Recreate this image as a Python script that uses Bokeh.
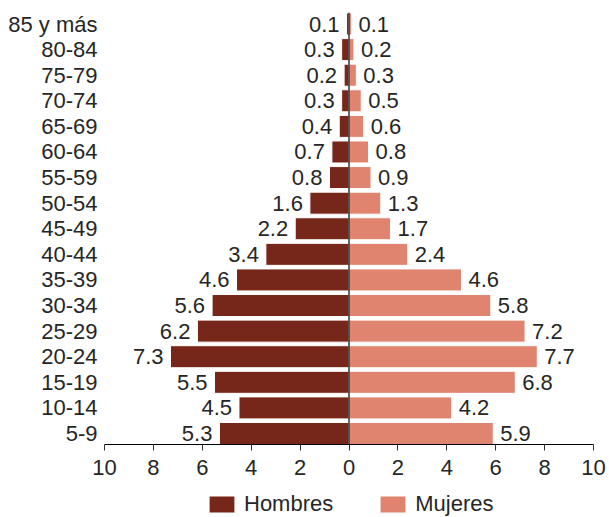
from bokeh.plotting import figure
from bokeh.layouts import column
from bokeh.models import ColumnDataSource, Range1d, FixedTicker, Span, Legend, LegendItem
from bokeh.core.properties import value
from bokeh.embed import file_html
from bokeh.resources import INLINE

groups = ["5-9", "10-14", "15-19", "20-24", "25-29", "30-34", "35-39", "40-44",
          "45-49", "50-54", "55-59", "60-64", "65-69", "70-74", "75-79", "80-84", "85 y más"]
hombres = [5.3, 4.5, 5.5, 7.3, 6.2, 5.6, 4.6, 3.4, 2.2, 1.6, 0.8, 0.7, 0.4, 0.3, 0.2, 0.3, 0.1]
mujeres = [5.9, 4.2, 6.8, 7.7, 7.2, 5.8, 4.6, 2.4, 1.7, 1.3, 0.9, 0.8, 0.6, 0.5, 0.3, 0.2, 0.1]
x_ticks = [-10, -8, -6, -4, -2, 0, 2, 4, 6, 8, 10]
series_names = ["Hombres", "Mujeres"]

FONT = "Liberation Sans"
TXT = "#262626"
C_H = "#76271A"
C_M = "#E0836F"
FS = "22px"

ypos = list(range(len(groups)))
src = ColumnDataSource(dict(
    y=ypos,
    h_left=[-v for v in hombres],
    m_right=mujeres,
    h_lab=[f"{v:.1f}" for v in hombres],
    m_lab=[f"{v:.1f}" for v in mujeres],
))

p = figure(width=609, height=493, output_backend="svg", toolbar_location=None,
           x_range=Range1d(-10, 10), y_range=Range1d(-0.43, 16.45),
           min_border_left=104, min_border_right=16, min_border_top=12, min_border_bottom=49)

hb = p.hbar(y="y", left="h_left", right=0, height=0.86, source=src,
            fill_color=C_H, line_color="white", line_width=1)
mb = p.hbar(y="y", left=0, right="m_right", height=0.86, source=src,
            fill_color=C_M, line_color="white", line_width=1)

p.text(x="h_left", y="y", text="h_lab", source=src, x_offset=-7,
       text_align="right", text_baseline="middle", text_font=value(FONT),
       text_font_size=FS, text_color=TXT)
p.text(x="m_right", y="y", text="m_lab", source=src, x_offset=7,
       text_align="left", text_baseline="middle", text_font=value(FONT),
       text_font_size=FS, text_color=TXT)

p.add_layout(Span(location=0, dimension="height", line_color="black", line_width=1.2))

p.xgrid.visible = False
p.ygrid.visible = False
p.outline_line_color = None

xa = p.xaxis[0]
xa.ticker = FixedTicker(ticks=x_ticks)
xa.major_label_overrides = {t: str(abs(t)) for t in x_ticks}
xa.minor_tick_line_color = None
xa.major_tick_in = 0
xa.major_tick_out = 6
xa.axis_line_color = "black"
xa.major_tick_line_color = "#333333"
xa.major_label_text_font = FONT
xa.major_label_text_font_size = FS
xa.major_label_text_color = TXT
xa.major_label_standoff = 9

ya = p.yaxis[0]
ya.ticker = FixedTicker(ticks=ypos)
ya.major_label_overrides = {i: g for i, g in enumerate(groups)}
ya.axis_line_color = None
ya.major_tick_line_color = None
ya.minor_tick_line_color = None
ya.major_label_text_font = FONT
ya.major_label_text_font_size = FS
ya.major_label_text_color = TXT
ya.major_label_standoff = 1

# Legend strip as a second small figure directly under the chart
q = figure(width=609, height=24, output_backend="svg", toolbar_location=None,
           x_axis_location=None, y_axis_location=None,
           x_range=Range1d(0, 1), y_range=Range1d(0, 1),
           min_border_left=104, min_border_right=16, min_border_top=0, min_border_bottom=0)
q.xgrid.visible = False
q.ygrid.visible = False
q.outline_line_color = None
leg_src = ColumnDataSource(dict(y=[0], l=[0], r=[0]))
lh = q.hbar(y="y", left="l", right="r", height=0, source=leg_src, fill_color=C_H, line_color=None)
lm = q.hbar(y="y", left="l", right="r", height=0, source=leg_src, fill_color=C_M, line_color=None)

legend = Legend(items=[LegendItem(label=series_names[0], renderers=[lh]),
                       LegendItem(label=series_names[1], renderers=[lm])],
                orientation="horizontal", location=(102, 0),
                glyph_width=31, glyph_height=20, spacing=44, label_standoff=7,
                label_text_font=FONT, label_text_font_size=FS, label_text_color=TXT,
                label_height=22,
                border_line_color=None, background_fill_alpha=0, margin=0, padding=0)
q.add_layout(legend, "center")

layout = column(p, q, spacing=0)
open("out.html", "w").write(file_html(layout, INLINE))
